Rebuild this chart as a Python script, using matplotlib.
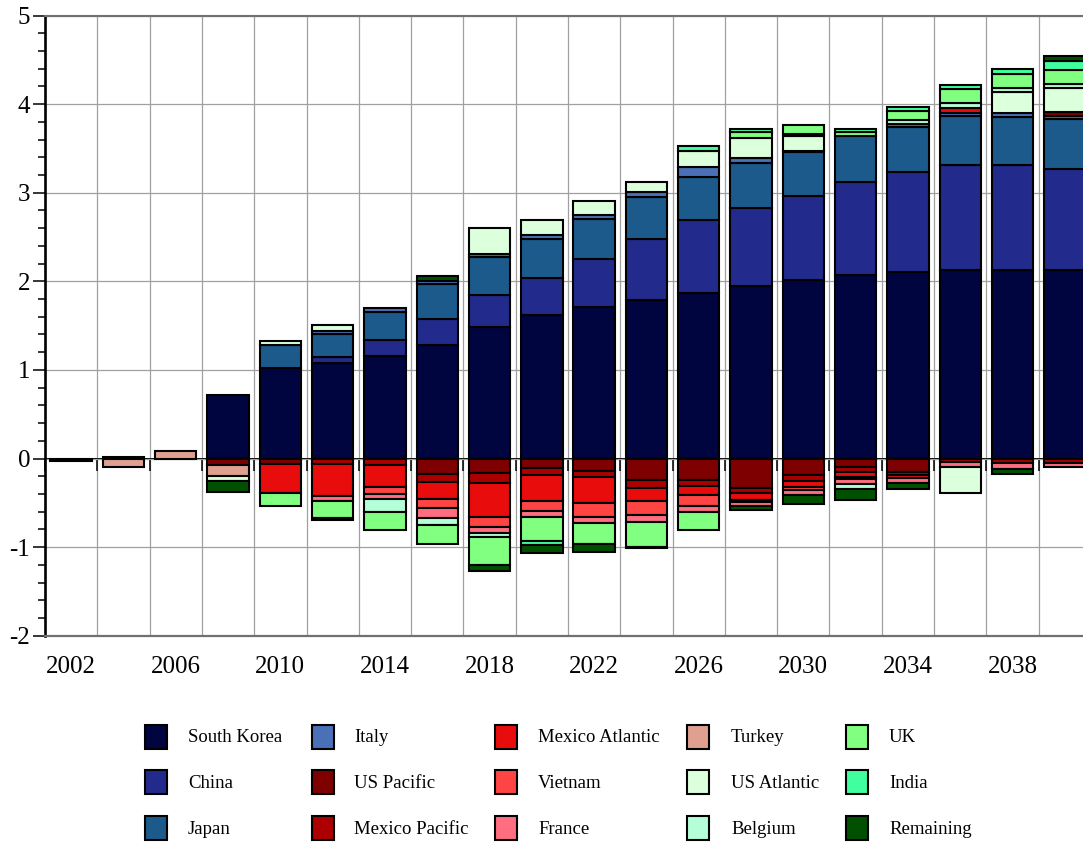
import numpy as np
import matplotlib
matplotlib.use("Agg")
import matplotlib.pyplot as plt
from matplotlib.patches import Rectangle

plt.rcParams['font.family'] = ['Liberation Serif', 'DejaVu Serif']

years = [2002, 2004, 2006, 2008, 2010, 2012, 2014, 2016, 2018, 2020,
         2022, 2024, 2026, 2028, 2030, 2032, 2034, 2036, 2038, 2040]

south_korea = [0, 0.02, 0, 0.716, 1.026, 1.075, 1.154, 1.286, 1.482, 1.621,
               1.708, 1.791, 1.870, 1.942, 2.017, 2.066, 2.104, 2.130, 2.130, 2.130]
china = [0, 0, 0, 0, 0, 0.068, 0.188, 0.283, 0.369, 0.419,
         0.547, 0.683, 0.818, 0.886, 0.943, 1.052, 1.128, 1.177, 1.177, 1.132]
japan = [0, 0, 0, 0, 0.256, 0.264, 0.317, 0.396, 0.423, 0.434,
         0.445, 0.475, 0.494, 0.502, 0.498, 0.521, 0.513, 0.558, 0.550, 0.565]
italy = [0, 0, 0, 0, 0, 0.037, 0.045, 0.040, 0.037, 0.052,
         0.045, 0.057, 0.113, 0.057, 0.010, 0, 0.025, 0.030, 0.045, 0.038]
us_pacific = [-0.03, 0, 0, -0.075, -0.057, 0, 0, -0.173, -0.166, -0.109,
              -0.136, -0.245, -0.241, -0.336, -0.185, -0.098, -0.147, 0, 0, 0.045]
mexico_pacific = [0, 0, 0, 0, 0, -0.064, -0.068, -0.094, -0.113, -0.072,
                  -0.072, -0.083, -0.072, -0.057, -0.064, -0.057, -0.034, -0.045, -0.050, -0.049]
mexico_atlantic = [0, 0, 0, 0, -0.328, -0.358, -0.253, -0.189, -0.385, -0.302,
                   -0.294, -0.147, -0.094, -0.079, -0.075, -0.057, -0.038, 0.057, 0, 0]
vietnam = [0, 0, 0, 0, 0, 0, -0.079, -0.102, -0.106, -0.113,
           -0.162, -0.158, -0.132, -0.015, -0.026, -0.023, 0, 0, 0, 0]
france = [0, 0, 0, 0, 0, -0.057, -0.057, -0.113, -0.072, -0.060,
          -0.064, -0.087, -0.068, -0.045, -0.057, -0.053, -0.053, -0.053, -0.064, -0.045]
turkey = [0, -0.10, 0.08, -0.125, 0, 0, 0, 0, 0, 0,
          0, 0, 0, 0, 0, 0, 0, 0, 0, 0]
us_atlantic = [0, 0, 0, -0.057, 0.045, 0.068, 0, 0, 0.291, 0.163,
               0.158, 0.120, 0.177, 0.226, 0.173, 0, 0, -0.290, 0.233, 0.268]
belgium = [0, 0, 0, 0, 0, 0, -0.151, -0.079, -0.041, 0,
           0, 0, 0, 0, 0.027, -0.053, 0.050, 0.056, 0.050, 0.053]
uk = [0, 0, 0, 0, -0.150, -0.190, -0.196, -0.219, -0.320, -0.272,
      -0.238, -0.275, -0.204, 0.070, 0.100, 0.045, 0.100, 0.158, 0.150, 0.154]
india = [0, 0, 0, 0, 0, -0.030, 0, 0, 0, -0.045,
         0, 0, 0.057, 0.032, 0, 0.040, 0.045, 0.049, 0.065, 0.102]
remaining = [0, 0, 0, -0.120, 0, 0, 0, 0.050, -0.072, -0.098,
             -0.087, -0.010, 0, -0.053, -0.102, -0.124, -0.068, 0, -0.064, 0.057]

series = [
    ("South Korea", south_korea, "#000540"),
    ("China", china, "#222a8c"),
    ("Japan", japan, "#1b5a8a"),
    ("Italy", italy, "#4a70b8"),
    ("US Pacific", us_pacific, "#7f0000"),
    ("Mexico Pacific", mexico_pacific, "#ac0000"),
    ("Mexico Atlantic", mexico_atlantic, "#e80c0c"),
    ("Vietnam", vietnam, "#ff4444"),
    ("France", france, "#ff6e80"),
    ("Turkey", turkey, "#e0a090"),
    ("US Atlantic", us_atlantic, "#dcffdc"),
    ("Belgium", belgium, "#b4ffd8"),
    ("UK", uk, "#80ff80"),
    ("India", india, "#40ff9e"),
    ("Remaining", remaining, "#005000"),
]

W, H = 1083, 842
fig = plt.figure(figsize=(W / 100, H / 100), dpi=100)
ax = fig.add_axes([45 / W, 1 - 635.7 / H, (W - 45) / W, (635.7 - 15.5) / H])

x = np.arange(len(years))
pos_base = np.zeros(len(years))
neg_base = np.zeros(len(years))
for name, vals, color in series:
    v = np.asarray(vals, dtype=float)
    bottom = np.where(v >= 0, pos_base, neg_base)
    mask = v != 0
    ax.bar(x[mask], v[mask], bottom=bottom[mask], width=0.79, color=color,
           edgecolor="black", linewidth=1.5, zorder=3)
    pos_base = pos_base + np.clip(v, 0, None)
    neg_base = neg_base + np.clip(v, None, 0)

ax.set_xlim(-0.5, -0.5 + (W - 45) / 52.3)
ax.set_ylim(-2, 5)

# grid: horizontal at integers, vertical at category boundaries
ax.set_axisbelow(True)
ax.set_yticks(np.arange(-2, 6, 1))
ax.set_yticks(np.arange(-2, 5.01, 0.2), minor=True)
ax.yaxis.grid(True, which="major", color="#a0a0a0", linewidth=0.9)
for b in np.arange(0.5, len(years) - 0.5, 1.0):
    ax.axvline(b, color="#a0a0a0", linewidth=0.9, zorder=0)

ax.set_xticks(x[::2])
ax.set_xticklabels([str(y) for y in years[::2]])
ax.tick_params(axis="x", length=0, pad=14.5, labelsize=18)
ax.tick_params(axis="y", which="major", length=8.6, width=1.1, direction="out",
               pad=2, labelsize=18)
ax.tick_params(axis="y", which="minor", length=5, width=1.1, direction="out")
ax.set_yticklabels(["-2", "-1", "0", "1", "2", "3", "4", "5"])

ax.spines["left"].set_linewidth(1.9)
ax.spines["left"].set_color("black")
ax.spines["right"].set_visible(False)
ax.spines["top"].set_color("#707070")
ax.spines["top"].set_linewidth(1.5)
ax.spines["bottom"].set_color("#707070")
ax.spines["bottom"].set_linewidth(1.6)

# zero axis with ticks at the category boundaries
zero_ax = ax.secondary_xaxis(0, transform=ax.transData)
zero_ax.set_xticks(np.arange(-0.5, len(years), 1.0))
zero_ax.tick_params(axis="x", length=8.6, width=1.1, direction="out",
                    labelbottom=False, color="black")
zero_ax.spines["bottom"].set_linewidth(1.4)
zero_ax.spines["bottom"].set_color("black")

# legend: five columns, three rows, column-major order
swatch_x = [145, 312, 495, 687, 846]
text_x = [188, 354, 538, 731, 889]
row_y = [737, 782, 828]
for i, (name, vals, color) in enumerate(series):
    col, row = divmod(i, 3)
    yc = row_y[row]
    fig.add_artist(Rectangle((swatch_x[col] / W, 1 - (yc + 12) / H), 22 / W, 24 / H,
                             transform=fig.transFigure, facecolor=color,
                             edgecolor="black", linewidth=1.5))
    fig.text(text_x[col] / W, 1 - (yc + 1) / H, name, ha="left", va="center",
             fontsize=13.5)

fig.savefig("out.png", dpi=100)
